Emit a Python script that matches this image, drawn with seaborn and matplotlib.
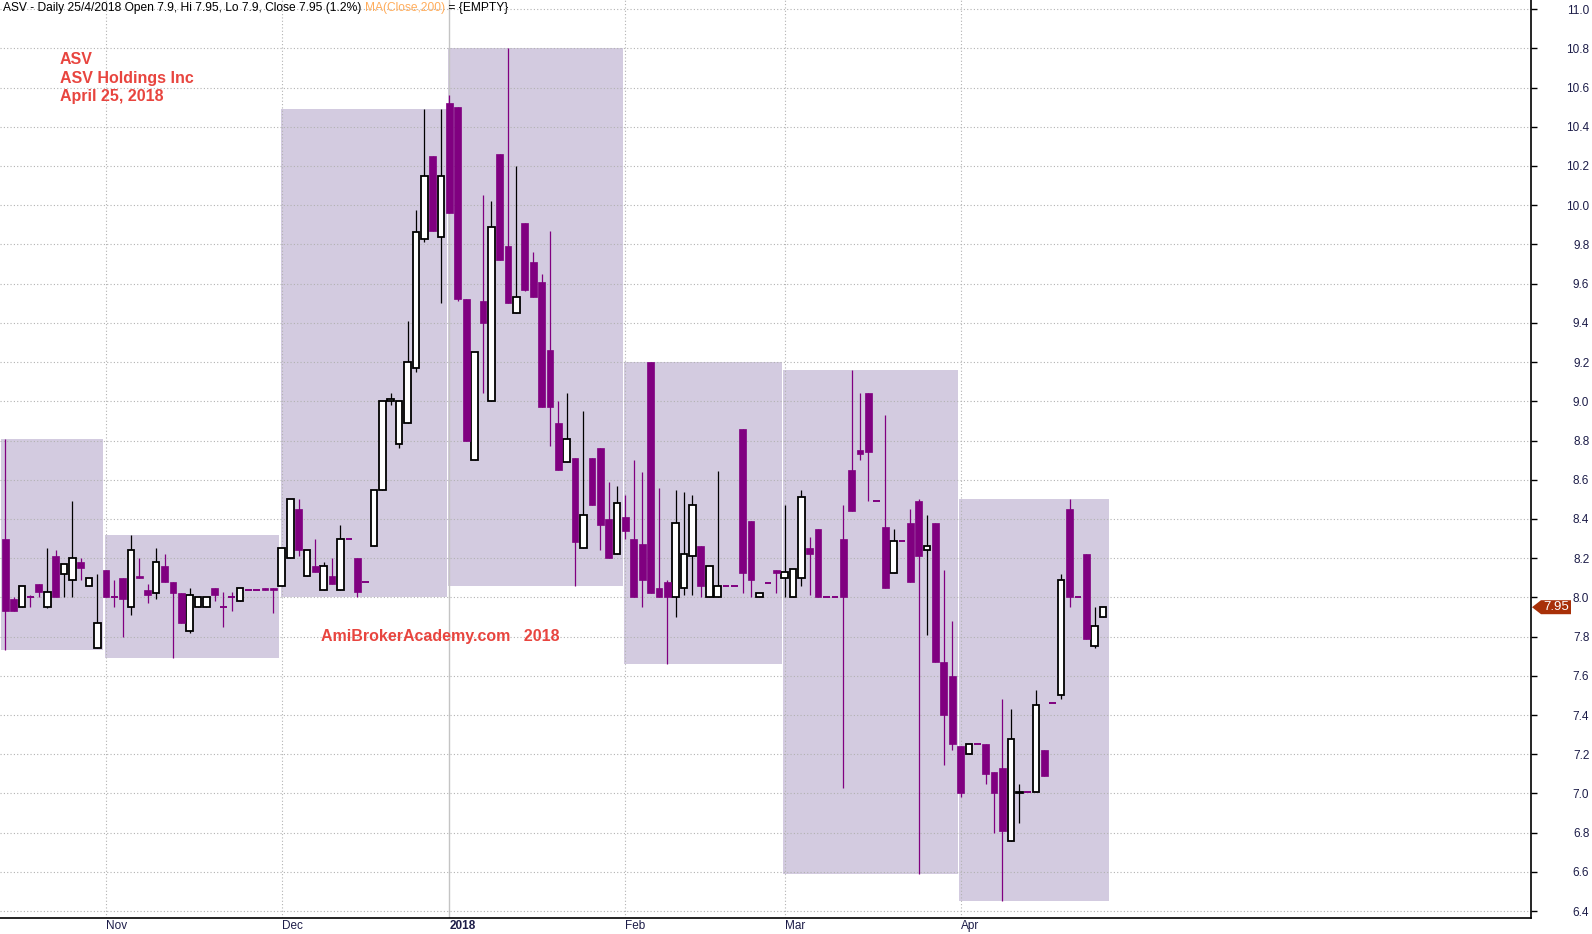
import numpy as np
import pandas as pd
import matplotlib
matplotlib.use("Agg")
import matplotlib.pyplot as plt
import matplotlib.transforms as mtransforms
from matplotlib.patches import Polygon, Rectangle
import seaborn as sns

# ASV daily prices, 16 Oct 2017 - 25 Apr 2018
opens = [8.30, 7.99, 7.95, 8.00, 8.07, 7.95, 8.21, 8.12, 8.09, 8.18, 8.06, 7.74,
         8.14, 8.00, 8.10, 7.95, 8.11, 8.04, 8.02, 8.16, 8.08, 8.02, 7.83, 7.95, 7.95, 8.05, 7.95, 8.00, 7.98, 8.04, 8.04, 8.05, 8.05,
         8.06, 8.20, 8.45, 8.11, 8.16, 8.04, 8.11, 8.04, 8.30, 8.20, 8.08, 8.26, 8.55, 9.00, 8.78, 8.89, 9.17, 9.83, 10.25, 9.84,
         10.52, 10.50, 9.52, 8.70, 9.51, 9.00, 10.26, 9.79, 9.45, 9.91, 9.71, 9.61, 9.26, 8.89, 8.69, 8.71, 8.25, 8.71, 8.76, 8.40, 8.22,
         8.41, 8.30, 8.27, 9.20, 8.05, 8.08, 8.00, 8.05, 8.21, 8.26, 8.00, 8.00, 8.06, 8.06, 8.86, 8.39, 8.00, 8.075, 8.14,
         8.10, 8.00, 8.10, 8.25, 8.35, 8.00, 8.00, 8.30, 8.65, 8.75, 9.04, 8.49, 8.36, 8.125, 8.29, 8.38, 8.49, 8.24, 8.38, 7.67, 7.60,
         7.24, 7.20, 7.25, 7.25, 7.11, 7.13, 6.76, 7.00, 7.01, 7.01, 7.22, 7.46, 7.50, 8.45, 8.00, 8.22, 7.75, 7.90]
highs = [8.81, 8.00, 8.06, 8.01, 8.07, 8.25, 8.24, 8.17, 8.49, 8.20, 8.10, 8.12,
         8.14, 8.09, 8.10, 8.32, 8.20, 8.07, 8.25, 8.22, 8.08, 8.02, 8.05, 8.00, 8.00, 8.05, 8.03, 8.03, 8.05, 8.04, 8.04, 8.05, 8.05,
         8.25, 8.50, 8.50, 8.24, 8.30, 8.18, 8.20, 8.37, 8.30, 8.20, 8.08, 8.55, 9.00, 9.04, 9.00, 9.41, 9.975, 10.49, 10.25, 10.49,
         10.56, 10.50, 9.52, 9.25, 10.05, 10.02, 10.26, 10.80, 10.20, 9.91, 9.76, 9.65, 9.87, 9.00, 9.04, 8.71, 8.95, 8.71, 8.76, 8.59, 8.57,
         8.52, 8.70, 8.64, 9.20, 8.56, 8.09, 8.55, 8.54, 8.52, 8.26, 8.16, 8.645, 8.06, 8.06, 8.86, 8.39, 8.02, 8.075, 8.14,
         8.47, 8.145, 8.55, 8.31, 8.35, 8.00, 8.00, 8.47, 9.16, 9.04, 9.04, 8.49, 8.93, 8.35, 8.29, 8.45, 8.50, 8.42, 8.38, 8.14, 7.88,
         7.24, 7.25, 7.25, 7.25, 7.11, 7.48, 7.43, 7.05, 7.01, 7.53, 7.22, 7.46, 8.12, 8.50, 8.00, 8.22, 7.95, 7.95]
lows = [7.73, 7.93, 7.95, 7.95, 8.00, 7.945, 8.00, 8.00, 8.00, 8.09, 8.06, 7.74,
        8.00, 7.95, 7.80, 7.91, 8.10, 7.97, 7.99, 8.08, 7.69, 7.87, 7.82, 7.95, 7.95, 7.98, 7.85, 7.93, 7.98, 8.04, 8.04, 8.04, 7.92,
        8.06, 8.20, 8.21, 8.11, 8.13, 8.04, 8.07, 8.04, 8.30, 8.00, 8.08, 8.26, 8.55, 8.98, 8.76, 8.89, 9.15, 9.81, 9.87, 9.50,
        9.96, 9.51, 8.80, 8.70, 9.04, 9.00, 9.72, 9.50, 9.45, 9.56, 9.53, 8.97, 8.77, 8.65, 8.69, 8.06, 8.25, 8.47, 8.24, 8.20, 8.22,
        8.30, 8.00, 7.95, 8.02, 8.00, 7.66, 7.90, 8.01, 8.01, 8.00, 8.00, 8.00, 8.06, 8.06, 8.02, 8.00, 8.00, 8.075, 8.02,
        8.00, 8.00, 8.06, 8.01, 8.00, 8.00, 8.00, 7.03, 8.44, 8.70, 8.49, 8.49, 8.05, 8.125, 8.29, 8.08, 6.59, 7.81, 7.67, 7.145, 7.22,
        6.98, 7.20, 7.25, 7.05, 6.80, 6.45, 6.76, 6.85, 7.01, 7.01, 7.09, 7.46, 7.48, 7.95, 8.00, 7.79, 7.74, 7.90]
closes = [7.93, 7.93, 8.06, 8.00, 8.03, 8.03, 8.00, 8.17, 8.20, 8.15, 8.10, 7.87,
          8.00, 8.00, 7.99, 8.24, 8.10, 8.01, 8.18, 8.08, 8.02, 7.87, 8.01, 8.00, 8.00, 8.01, 7.95, 8.00, 8.05, 8.04, 8.04, 8.04, 8.04,
          8.25, 8.50, 8.24, 8.24, 8.13, 8.16, 8.07, 8.30, 8.30, 8.03, 8.08, 8.55, 9.00, 9.01, 9.00, 9.20, 9.865, 10.15, 9.87, 10.15,
          9.96, 9.52, 8.80, 9.25, 9.40, 9.89, 9.72, 9.50, 9.53, 9.57, 9.53, 8.97, 8.97, 8.65, 8.81, 8.28, 8.42, 8.47, 8.37, 8.20, 8.48,
          8.34, 8.00, 8.09, 8.02, 8.00, 8.00, 8.38, 8.22, 8.47, 8.06, 8.16, 8.06, 8.06, 8.06, 8.125, 8.09, 8.02, 8.075, 8.125,
          8.13, 8.145, 8.51, 8.22, 8.00, 8.00, 8.00, 8.00, 8.44, 8.73, 8.74, 8.49, 8.05, 8.29, 8.29, 8.08, 8.21, 8.26, 7.67, 7.40, 7.25,
          7.00, 7.25, 7.25, 7.10, 7.00, 6.81, 7.28, 7.01, 7.01, 7.45, 7.09, 7.46, 8.09, 8.00, 8.00, 7.79, 7.855, 7.95]

month_labels = ["Oct", "Nov", "Dec", "2018", "Feb", "Mar", "Apr"]
month_starts = [0, 12, 33, 53, 74, 93, 114]
price_ticks = np.round(np.arange(6.4, 11.01, 0.2), 1)
last_close = 7.95

df = pd.DataFrame({"open": opens, "high": highs, "low": lows, "close": closes})
df["idx"] = np.arange(len(df))
df["up"] = df["close"] > df["open"]
df["month"] = np.searchsorted(month_starts, df["idx"], side="right") - 1

PURPLE = "#800080"
BOX = "#d3cbe0"
RED = "#e8453f"
NAVY = "#1c1c48"

#Setting styles
sns.set_theme(style="white")
plt.rcParams["font.family"] = ["Liberation Sans", "DejaVu Sans"]

W, H = 1592, 934
fig = plt.figure(figsize=(W / 100, H / 100), dpi=100)
ax = fig.add_axes([0, 16 / H, 1531 / W, 918 / H])
ax.set_facecolor("white")

#Monthly high/low boxes
for m, grp in df.groupby("month"):
    first, last = grp["idx"].min(), grp["idx"].max()
    left = -0.5 if m == 0 else first - 0.15
    right = last + 0.7
    lo, hi = grp["low"].min(), grp["high"].max()
    ax.add_patch(Rectangle((left, lo), right - left, hi - lo, facecolor=BOX,
                           edgecolor="none", zorder=1))

#Grid lines
for v in price_ticks:
    ax.axhline(v, color="#b2b2b2", lw=0.8, ls=(0, (1, 2)), zorder=2)
for lab, i in zip(month_labels[1:], month_starts[1:]):
    if lab == "2018":
        ax.axvline(i, color="#c4c4c4", lw=1.0, zorder=2)
    else:
        ax.axvline(i, color="#b2b2b2", lw=0.8, ls=(0, (1, 2)), zorder=2)

#Candles
up = df[df["up"]]
down = df[~df["up"]]
ax.vlines(up["idx"], up["low"], up["high"], color="black", lw=0.9, zorder=3)
ax.vlines(down["idx"], down["low"], down["high"], color=PURPLE, lw=0.9, zorder=3)
ax.bar(up["idx"], up["close"] - up["open"], bottom=up["open"], width=0.8,
       facecolor="white", edgecolor="black", linewidth=1.3, zorder=4)
body = down[down["open"] > down["close"]]
ax.bar(body["idx"], body["open"] - body["close"], bottom=body["close"], width=0.8,
       facecolor=PURPLE, edgecolor=PURPLE, linewidth=0.5, zorder=4)
flat = down[down["open"] == down["close"]]
ax.hlines(flat["close"], flat["idx"] - 0.4, flat["idx"] + 0.4, color=PURPLE, lw=1.4, zorder=4)

#Axes
ax.set_xlim(-0.632, 182.07)
ax.set_ylim(6.3651, 11.0464)
for s in ["left", "top"]:
    ax.spines[s].set_visible(False)
for s in ["right", "bottom"]:
    ax.spines[s].set_color("black")
    ax.spines[s].set_linewidth(1.2)

ax.yaxis.tick_right()
ax.set_yticks(price_ticks)
ax.set_yticklabels([f"{v:.1f}" for v in price_ticks])
ax.tick_params(axis="y", direction="out", length=4, width=1, color="black",
               pad=38, labelsize=8.5, labelcolor=NAVY)
for t in ax.get_yticklabels():
    t.set_horizontalalignment("right")

ax.set_xticks(month_starts[1:])
ax.set_xticklabels(month_labels[1:])
ax.tick_params(axis="x", direction="out", length=4, width=1, color="black",
               pad=-2.5, labelsize=8.5, labelcolor=NAVY)
for t in ax.get_xticklabels():
    t.set_horizontalalignment("left")
    if t.get_text() == "2018":
        t.set_fontweight("bold")
ax.grid(False)

#Last price tag
tr = mtransforms.blended_transform_factory(fig.transFigure, ax.transData)
dy = 7 / 196.1
tag = Polygon([(1532 / W, last_close), (1541 / W, last_close + dy), (1571 / W, last_close + dy),
               (1571 / W, last_close - dy), (1541 / W, last_close - dy)],
              closed=True, facecolor="#a83008", edgecolor="none", transform=tr, clip_on=False, zorder=6)
ax.add_patch(tag)
ax.text(1556 / W, last_close, f"{last_close:.2f}", transform=tr, ha="center", va="center",
        color="white", fontsize=9.5, zorder=7, clip_on=False)

#Header line
fig.canvas.draw()
renderer = fig.canvas.get_renderer()
x = 3
parts = [("ASV - Daily 25/4/2018 Open 7.9, Hi 7.95, Lo 7.9, Close 7.95 (1.2%) ", "black"),
         ("MA(Close,200)", "#ffad5c"), (" = {EMPTY}", "black")]
for s, c in parts:
    t = fig.text(x / W, 1 - 8 / H, s, color=c, fontsize=8.65, ha="left", va="center")
    x = t.get_window_extent(renderer).x1

#Labels
for s, yy in zip(["ASV", "ASV Holdings Inc", "April 25, 2018"], [59, 78, 97]):
    fig.text(60 / W, 1 - yy / H, s, color=RED, fontsize=11.5, fontweight="bold", ha="left", va="center")
fig.text(321 / W, 1 - 636 / H, "AmiBrokerAcademy.com   2018", color=RED, fontsize=11.5,
         fontweight="bold", ha="left", va="center")

fig.savefig("out.png", dpi=100)
